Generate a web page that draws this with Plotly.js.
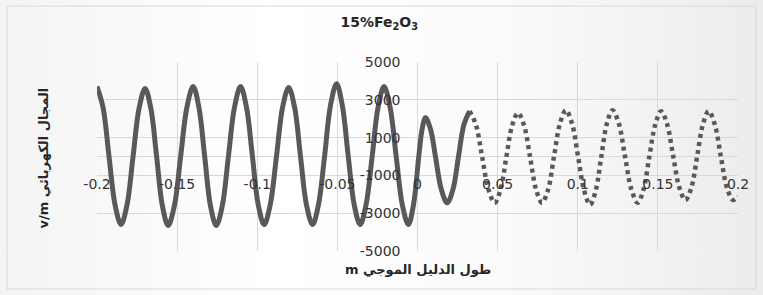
<!DOCTYPE html>
<html>
<head>
<meta charset="utf-8">
<script src="https://cdn.plot.ly/plotly-3.0.1.min.js"></script>
<style>
  html, body { margin: 0; padding: 0; }
  body { width: 763px; height: 295px; background: linear-gradient(to right, #f4f4f4 0%, #ffffff 35%, #fbfbfb 65%, #ececec 100%); }
  #chart { width: 763px; height: 295px; }
</style>
</head>
<body>
<div id="chart"></div>
<script>
// Solid part of the wave (x < ~0.033): points
const xSolid = [
  -0.2, -0.19625, -0.1925, -0.18875, -0.185, -0.18125, -0.1775, -0.17375,
  -0.170, -0.1664, -0.1628, -0.1592, -0.1556, -0.1517, -0.1478, -0.1439,
  -0.140, -0.1364, -0.1328, -0.1292, -0.1256, -0.1218, -0.118, -0.1142,
  -0.1104, -0.1067, -0.103, -0.0994, -0.0957, -0.0919, -0.088, -0.0842,
  -0.0804, -0.0767, -0.073, -0.0693, -0.0655, -0.0618, -0.058, -0.0543,
  -0.0505, -0.0469, -0.0432, -0.0395, -0.0358, -0.0321, -0.0283, -0.0246,
  -0.0209, -0.0171, -0.0133, -0.0095, -0.0057, -0.0025, 0.0008, 0.0029,
  0.005, 0.0081, 0.0112, 0.0149, 0.0185, 0.0221, 0.0256, 0.029, 0.0325];
const ySolid = [
  3700, 2600, 0, -2550, -3600, -2550, 0, 2550,
  3600, 2550, 0, -2600, -3650, -2600, 0, 2600,
  3700, 2600, 0, -2600, -3650, -2600, 0, 2600,
  3700, 2600, 0, -2550, -3600, -2550, 0, 2600,
  3650, 2600, 0, -2550, -3600, -2550, 0, 2700,
  3850, 2700, 0, -2550, -3600, -2550, 0, 2600,
  3700, 2600, 0, -2550, -3600, -2550, 0, 1450,
  2050, 1450, 0, -1750, -2450, -1750, 0, 1700, 2400];
// Dotted part of the wave (x > ~0.033)
const xDotted = [
  0.0325, 0.0364, 0.0403, 0.0443, 0.0482, 0.0518, 0.0555, 0.0591,
  0.0627, 0.0665, 0.0702, 0.074, 0.0777, 0.0815, 0.0852, 0.0889,
  0.0926, 0.0964, 0.1002, 0.104, 0.1077, 0.1112, 0.1147, 0.1182,
  0.1217, 0.1256, 0.1295, 0.1335, 0.1374, 0.141, 0.1447, 0.1484,
  0.152, 0.1558, 0.1596, 0.1634, 0.1672, 0.1709, 0.1745, 0.1781,
  0.1817, 0.1855, 0.1893, 0.1931, 0.1969, 0.2];
const yDotted = [
  2400, 1700, 0, -1750, -2450, -1750, 0, 1650,
  2300, 1650, 0, -1750, -2450, -1750, 0, 1750,
  2450, 1750, 0, -1800, -2550, -1800, 0, 1750,
  2450, 1750, 0, -1750, -2450, -1750, 0, 1700,
  2400, 1700, 0, -1650, -2300, -1650, 0, 1700,
  2400, 1700, 0, -1650, -2300, -2100];

const xTicks = [-0.2, -0.15, -0.1, -0.05, 0, 0.05, 0.1, 0.15, 0.2];
const xTickText = ['-0.2', '-0.15', '-0.1', '-0.05', '0', '0.05', '0.1', '0.15', '0.2'];
const yTicks = [-5000, -3000, -1000, 1000, 3000, 5000];
const yTickText = ['-5000', '-3000', '-1000', '1000', '3000', '5000'];

const chartTitle = '15%Fe<sub>2</sub>O<sub>3</sub>';
const xTitle = 'm طول الدليل الموجي';
const yTitle = 'v/m المجال الكهربائي';

const lineColor = '#595959';
const traces = [
  { x: xSolid, y: ySolid, type: 'scatter', mode: 'lines',
    line: { color: lineColor, width: 5, shape: 'spline', smoothing: 1 }, hoverinfo: 'none' },
  { x: xDotted, y: yDotted, type: 'scatter', mode: 'lines',
    line: { color: lineColor, width: 4.5, shape: 'spline', smoothing: 1, dash: '4px,4px' }, hoverinfo: 'none' }
];

const tickFont = { family: 'DejaVu Sans, sans-serif', size: 14, color: '#333333' };
const layout = {
  width: 763, height: 295,
  margin: { l: 97, r: 25, t: 62, b: 44, pad: 0 },
  paper_bgcolor: 'rgba(0,0,0,0)',
  plot_bgcolor: 'rgba(0,0,0,0)',
  showlegend: false,
  title: { text: chartTitle, xref: 'container', x: 0.497, yref: 'container', y: 0.925,
           xanchor: 'center', yanchor: 'middle',
           font: { family: 'DejaVu Sans, sans-serif', size: 14, color: '#262626', weight: 'bold' } },
  xaxis: {
    range: [-0.2, 0.2], domain: [0, 1], anchor: 'free', position: 0.5,
    tickvals: xTicks, ticktext: xTickText, ticks: '', ticklabelstandoff: 17,
    showgrid: true, gridcolor: '#d9d9d9', gridwidth: 1, zeroline: false, showline: false,
    tickfont: tickFont, fixedrange: true
  },
  yaxis: {
    range: [-5000, 5000], domain: [0, 1], anchor: 'free', position: 0.5,
    tickvals: yTicks, ticktext: yTickText, ticks: '', ticklabelstandoff: 17,
    showgrid: true, gridcolor: '#d9d9d9', gridwidth: 1,
    zeroline: true, zerolinecolor: '#d9d9d9', zerolinewidth: 1, showline: false,
    tickfont: tickFont, fixedrange: true
  },
  annotations: [
    { text: xTitle, xref: 'paper', yref: 'paper', x: 0.501, y: -0.1, xanchor: 'center', yanchor: 'middle',
      showarrow: false, font: { family: 'DejaVu Sans, sans-serif', size: 13, color: '#262626', weight: 'bold' } },
    { text: yTitle, xref: 'paper', yref: 'paper', x: -0.085, y: 0.492, xanchor: 'center', yanchor: 'middle',
      textangle: -90, showarrow: false, font: { family: 'DejaVu Sans, sans-serif', size: 13, color: '#262626', weight: 'bold' } }
  ],
  shapes: [
    { type: 'rect', xref: 'paper', yref: 'paper', x0: -0.1404, x1: 1.028, y0: -0.201, y1: 1.296,
      line: { color: '#d9d9d9', width: 1 }, fillcolor: 'rgba(0,0,0,0)', layer: 'below' }
  ]
};

Plotly.newPlot('chart', traces, layout, { displayModeBar: false, staticPlot: true });
</script>
</body>
</html>
